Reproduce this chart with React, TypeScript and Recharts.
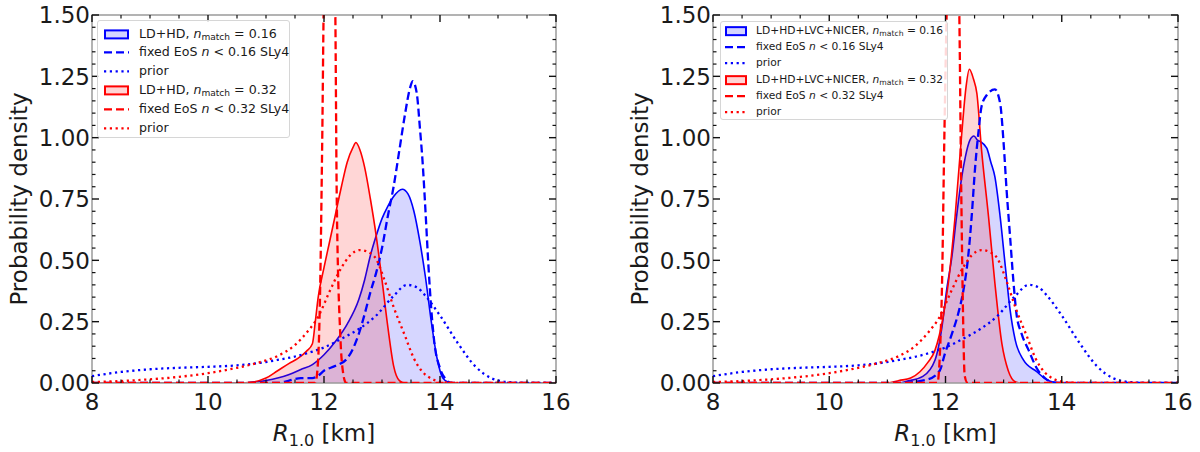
import React from 'react';
import { ComposedChart, Area, Line, XAxis, YAxis, ReferenceArea } from 'recharts';

type Pt = [number, number];

// ---- axes / ticks ----
const xMajorTicks = [8, 10, 12, 14, 16];
const yMajorTicks = [0, 0.25, 0.5, 0.75, 1.0, 1.25, 1.5];
const yTickLabels = ['0.00', '0.25', '0.50', '0.75', '1.00', '1.25', '1.50'];
const xMinorStep = 0.5;
const yMinorStep = 0.05;

// ---- shared priors ----
const priorN016: Pt[] = [
  [8, 0.028], [8.5, 0.045], [9, 0.056], [9.5, 0.062], [10, 0.066], [10.5, 0.072], [10.9, 0.082],
  [11.2, 0.094], [11.5, 0.108], [11.8, 0.128], [12.0, 0.145], [12.3, 0.18], [12.6, 0.22], [12.9, 0.275],
  [13.2, 0.355], [13.43, 0.4], [13.6, 0.39], [13.75, 0.355], [14.0, 0.275], [14.3, 0.165], [14.6, 0.07],
  [14.9, 0.018], [15.2, 0.003], [15.5, 0], [16, 0],
];
const priorN032: Pt[] = [
  [8, 0.004], [8.5, 0.008], [9, 0.015], [9.5, 0.025], [10, 0.04], [10.5, 0.062], [10.9, 0.085],
  [11.2, 0.11], [11.5, 0.155], [11.7, 0.205], [11.9, 0.27], [12.1, 0.375], [12.3, 0.47], [12.45, 0.52],
  [12.62, 0.542], [12.75, 0.535], [12.9, 0.505], [13.05, 0.415], [13.2, 0.31], [13.4, 0.19], [13.55, 0.1],
  [13.7, 0.045], [13.85, 0.018], [14.0, 0.006], [14.2, 0.001], [14.5, 0], [16, 0],
];

// ---- left panel: LD+HD ----
const ldhd016: Pt[] = [
  [8, 0], [10.6, 0], [10.8, 0.003], [11.0, 0.01], [11.2, 0.02], [11.4, 0.035], [11.6, 0.055], [11.8, 0.075],
  [12.0, 0.115], [12.2, 0.17], [12.4, 0.24], [12.6, 0.34], [12.7, 0.42], [12.8, 0.52], [12.9, 0.6],
  [13.0, 0.67], [13.1, 0.72], [13.2, 0.76], [13.35, 0.79], [13.45, 0.77], [13.55, 0.7], [13.65, 0.58],
  [13.75, 0.43], [13.85, 0.25], [13.95, 0.1], [14.05, 0.02], [14.15, 0.003], [14.3, 0], [16, 0],
];
const ldhdFixed016: Pt[] = [
  [8, 0], [11.2, 0], [11.4, 0.01], [11.6, 0.02], [11.8, 0.02], [11.9, 0.03], [12.0, 0.05], [12.2, 0.07],
  [12.4, 0.1], [12.5, 0.14], [12.6, 0.2], [12.7, 0.28], [12.8, 0.37], [12.9, 0.45], [13.0, 0.55],
  [13.1, 0.68], [13.2, 0.8], [13.3, 0.95], [13.4, 1.1], [13.48, 1.2], [13.53, 1.23], [13.6, 1.18],
  [13.65, 1.05], [13.7, 0.9], [13.75, 0.7], [13.8, 0.48], [13.85, 0.3], [13.9, 0.17], [14.0, 0.06],
  [14.1, 0.015], [14.2, 0], [16, 0],
];
const ldhd032: Pt[] = [
  [8, 0], [10.5, 0], [10.8, 0.005], [11.0, 0.02], [11.2, 0.05], [11.4, 0.08], [11.55, 0.1], [11.7, 0.13],
  [11.8, 0.16], [11.85, 0.25], [11.9, 0.35], [12.0, 0.47], [12.1, 0.58], [12.2, 0.69], [12.3, 0.8],
  [12.4, 0.9], [12.5, 0.96], [12.55, 0.98], [12.62, 0.95], [12.7, 0.88], [12.8, 0.75], [12.9, 0.6],
  [13.0, 0.42], [13.1, 0.23], [13.2, 0.07], [13.3, 0.01], [13.4, 0], [16, 0],
];
const ldhdFixed032: Pt[] = [
  [8, 0], [11.85, 0], [11.9, 0.1], [11.93, 0.34], [11.97, 1.0], [12.0, 1.6], [12.1, 2.0], [12.19, 1.6],
  [12.22, 0.75], [12.28, 0.2], [12.33, 0.04], [12.38, 0], [16, 0],
];

// ---- right panel: LD+HD+LVC+NICER ----
const nicer016: Pt[] = [
  [8, 0], [11.2, 0], [11.33, 0.007], [11.61, 0.027], [11.82, 0.094], [11.94, 0.23], [12.02, 0.38],
  [12.11, 0.515], [12.19, 0.678], [12.28, 0.84], [12.34, 0.92], [12.42, 0.99], [12.49, 1.007],
  [12.55, 0.99], [12.6, 0.984], [12.71, 0.957], [12.78, 0.9], [12.85, 0.84], [12.94, 0.678],
  [13.03, 0.474], [13.11, 0.3], [13.2, 0.175], [13.34, 0.094], [13.57, 0.046], [13.7, 0.02],
  [13.8, 0.007], [13.95, 0], [16, 0],
];
const nicerFixed016: Pt[] = [
  [8, 0], [11.2, 0], [11.68, 0.014], [11.9, 0.05], [11.99, 0.12], [12.11, 0.2], [12.22, 0.284],
  [12.31, 0.38], [12.39, 0.515], [12.45, 0.678], [12.51, 0.88], [12.57, 1.03], [12.62, 1.127],
  [12.71, 1.174], [12.85, 1.197], [12.94, 1.14], [13.0, 0.977], [13.05, 0.79], [13.11, 0.6],
  [13.17, 0.41], [13.22, 0.284], [13.31, 0.2], [13.43, 0.134], [13.57, 0.06], [13.71, 0.02],
  [13.86, 0.002], [14.0, 0], [16, 0],
];
const nicer032: Pt[] = [
  [8, 0], [11.0, 0], [11.2, 0.01], [11.4, 0.02], [11.56, 0.046], [11.7, 0.085], [11.82, 0.134],
  [11.96, 0.27], [12.05, 0.41], [12.165, 0.678], [12.28, 1.018], [12.35, 1.2], [12.41, 1.279],
  [12.48, 1.24], [12.54, 1.18], [12.62, 0.95], [12.74, 0.678], [12.85, 0.406], [12.97, 0.16],
  [13.08, 0.05], [13.2, 0.005], [13.3, 0], [16, 0],
];
const nicerFixed032: Pt[] = [
  [8, 0], [11.86, 0], [11.9, 0.1], [11.94, 0.4], [11.98, 1.0], [12.03, 1.6], [12.13, 2.0], [12.23, 1.6],
  [12.27, 0.8], [12.3, 0.3], [12.33, 0.03], [12.38, 0], [16, 0],
];

// ---- legend labels ----
const leftDataset = 'LD+HD';
const rightDataset = 'LD+HD+LVC+NICER';
const nmatchValues = ['0.16', '0.32'];

const BLUE = '#0000ff';
const RED = '#ff0000';
const FONT = '"DejaVu Sans", sans-serif';
const TEXT = '#1a1a1a';

const toObj = (pts: Pt[]) => pts.map(([r, p]) => ({ r, p }));

const xAllTicks = Array.from({ length: Math.round((16 - 8) / xMinorStep) + 1 }, (_, i) => 8 + i * xMinorStep);
const yAllTicks = Array.from({ length: Math.round(1.5 / yMinorStep) + 1 }, (_, i) => +(i * yMinorStep).toFixed(2));

const isMajor = (v: number, majors: number[]) => majors.some((m) => Math.abs(m - v) < 1e-6);

const H = 452;
const PT = 15;
const PB = 383;
const YW = 80;

type LegendKind = 'patch' | 'dash' | 'dot';

function Handle({ kind, color, w, h }: { kind: LegendKind; color: string; w: number; h: number }) {
  if (kind === 'patch') {
    return (
      <svg width={w} height={h} style={{ display: 'block' }}>
        <rect x={1} y={h / 2 - 4} width={w - 2} height={8} fill={color} fillOpacity={0.17} stroke={color} strokeWidth={2} />
      </svg>
    );
  }
  return (
    <svg width={w} height={h} style={{ display: 'block' }}>
      <line
        x1={0}
        x2={w}
        y1={h / 2}
        y2={h / 2}
        stroke={color}
        strokeWidth={2.2}
        strokeDasharray={kind === 'dash' ? '8 4' : '2.2 3.6'}
      />
    </svg>
  );
}

function LegendBox({
  dataset, left, top, width, height, rowTop, rowH, fontSize, handleX, handleW, textX,
}: any) {
  const items: { kind: LegendKind; color: string; label: React.ReactNode }[] = [];
  nmatchValues.forEach((nv, i) => {
    const color = i === 0 ? BLUE : RED;
    items.push({
      kind: 'patch', color,
      label: (<span>{dataset}, <i>n</i><sub style={{ fontSize: '0.72em', verticalAlign: '-0.25em' }}>match</sub> = {nv}</span>),
    });
    items.push({ kind: 'dash', color, label: (<span>fixed EoS <i>n</i> &lt; {nv} SLy4</span>) });
    items.push({ kind: 'dot', color, label: <span>prior</span> });
  });
  return (
    <div
      style={{
        position: 'absolute', left, top, width, height, boxSizing: 'border-box',
        background: 'rgba(255,255,255,0.85)', border: '1px solid #d6d6d6', borderRadius: 3,
        fontFamily: FONT, fontSize, color: TEXT,
      }}
    >
      {items.map((it, i) => (
        <div key={i} style={{ position: 'absolute', left: 0, top: rowTop + i * rowH - rowH / 2, height: rowH, width: '100%' }}>
          <div style={{ position: 'absolute', left: handleX, top: 0 }}>
            <Handle kind={it.kind} color={it.color} w={handleW} h={rowH} />
          </div>
          <div style={{ position: 'absolute', left: textX, top: 0, height: rowH, lineHeight: `${rowH}px`, whiteSpace: 'nowrap' }}>
            {it.label}
          </div>
        </div>
      ))}
    </div>
  );
}

function Panel({ left, marginLeft, marginRight, series, legend }: any) {
  const PL = marginLeft + YW;
  const PR = 600 - marginRight;

  const renderXTick = (props: any) => {
    const { x, payload } = props;
    const v = payload.value;
    const major = isMajor(v, xMajorTicks);
    const len = major ? 7 : 3.5;
    const sw = major ? 1.4 : 1.2;
    return (
      <g>
        <line x1={x} x2={x} y1={PB} y2={PB - len} stroke="#111" strokeWidth={sw} />
        <line x1={x} x2={x} y1={PT} y2={PT + len} stroke="#111" strokeWidth={sw} />
        {major && (
          <text x={x} y={PB + 27} textAnchor="middle" fontSize={23} fontFamily={FONT} fill={TEXT}>
            {String(v)}
          </text>
        )}
      </g>
    );
  };

  const renderYTick = (props: any) => {
    const { y, payload } = props;
    const v = payload.value;
    const idx = yMajorTicks.findIndex((m) => Math.abs(m - v) < 1e-6);
    const major = idx >= 0;
    const len = major ? 7 : 3.5;
    const sw = major ? 1.4 : 1.2;
    return (
      <g>
        <line x1={PL} x2={PL + len} y1={y} y2={y} stroke="#111" strokeWidth={sw} />
        <line x1={PR} x2={PR - len} y1={y} y2={y} stroke="#111" strokeWidth={sw} />
        {major && (
          <text x={PL - 2} y={y + 8.4} textAnchor="end" fontSize={23} fontFamily={FONT} fill={TEXT}>
            {yTickLabels[idx]}
          </text>
        )}
      </g>
    );
  };

  const XLabel = () => (
    <text x={(PL + PR) / 2} y={441} textAnchor="middle" fontSize={23} fontFamily={FONT} fill={TEXT} style={{ whiteSpace: 'pre' }}>
      <tspan fontStyle="italic">R</tspan>
      <tspan fontSize={16} dy={5}>1.0</tspan>
      <tspan dy={-5}> [km]</tspan>
    </text>
  );
  const cy = (PT + PB) / 2;
  const YLabel = () => (
    <text
      x={PL - 73}
      y={cy}
      transform={`rotate(-90, ${PL - 73}, ${cy})`}
      textAnchor="middle"
      dominantBaseline="central"
      fontSize={23}
      fontFamily={FONT}
      fill={TEXT}
    >
      Probability density
    </text>
  );

  return (
    <div style={{ position: 'absolute', left, top: 0, width: 600, height: H }}>
      <ComposedChart width={600} height={H} margin={{ top: PT, right: marginRight, bottom: 0, left: marginLeft }}>
        <XAxis
          dataKey="r"
          type="number"
          domain={[8, 16]}
          allowDataOverflow
          ticks={xAllTicks}
          interval={0}
          tick={renderXTick}
          tickLine={false}
          axisLine={false}
          tickSize={0}
          height={H - PB}
          label={<XLabel />}
        />
        <YAxis
          type="number"
          domain={[0, 1.5]}
          allowDataOverflow
          ticks={yAllTicks}
          interval={0}
          tick={renderYTick}
          tickLine={false}
          axisLine={false}
          tickSize={0}
          width={YW}
          label={<YLabel />}
        />
        <Area data={toObj(series.post016)} dataKey="p" type="monotone" stroke={BLUE} strokeWidth={1.6}
          fill={BLUE} fillOpacity={0.16} isAnimationActive={false} dot={false} activeDot={false} />
        <Line data={toObj(series.fixed016)} dataKey="p" type="monotone" stroke={BLUE} strokeWidth={2.3}
          strokeDasharray="8 4" isAnimationActive={false} dot={false} activeDot={false} />
        <Line data={toObj(priorN016)} dataKey="p" type="monotone" stroke={BLUE} strokeWidth={2.3}
          strokeDasharray="2.2 3.6" isAnimationActive={false} dot={false} activeDot={false} />
        <Area data={toObj(series.post032)} dataKey="p" type="monotone" stroke={RED} strokeWidth={1.6}
          fill={RED} fillOpacity={0.16} isAnimationActive={false} dot={false} activeDot={false} />
        <Line data={toObj(series.fixed032)} dataKey="p" type="monotone" stroke={RED} strokeWidth={2.3}
          strokeDasharray="8 4" isAnimationActive={false} dot={false} activeDot={false} />
        <Line data={toObj(priorN032)} dataKey="p" type="monotone" stroke={RED} strokeWidth={2.3}
          strokeDasharray="2.2 3.6" isAnimationActive={false} dot={false} activeDot={false} />
        <ReferenceArea x1={8} x2={16} y1={0} y2={1.5} fill="none" stroke="#9a9a9a" strokeWidth={1.5} ifOverflow="visible" />
      </ComposedChart>
      <LegendBox {...legend} />
    </div>
  );
}

export default function App() {
  return (
    <div style={{ position: 'absolute', left: 0, top: 0, width: 1200, height: H, background: '#fff', fontFamily: FONT }}>
      <Panel
        left={0}
        marginLeft={12}
        marginRight={44}
        series={{ post016: ldhd016, fixed016: ldhdFixed016, post032: ldhd032, fixed032: ldhdFixed032 }}
        legend={{
          dataset: leftDataset, left: 97, top: 20, width: 193, height: 118,
          rowTop: 13, rowH: 18.8, fontSize: 12.6, handleX: 6, handleW: 25, textX: 41,
        }}
      />
      <Panel
        left={600}
        marginLeft={33}
        marginRight={22}
        series={{ post016: nicer016, fixed016: nicerFixed016, post032: nicer032, fixed032: nicerFixed032 }}
        legend={{
          dataset: rightDataset, left: 120, top: 21, width: 228, height: 99,
          rowTop: 9, rowH: 16.3, fontSize: 10.7, handleX: 4, handleW: 22, textX: 35,
        }}
      />
    </div>
  );
}
